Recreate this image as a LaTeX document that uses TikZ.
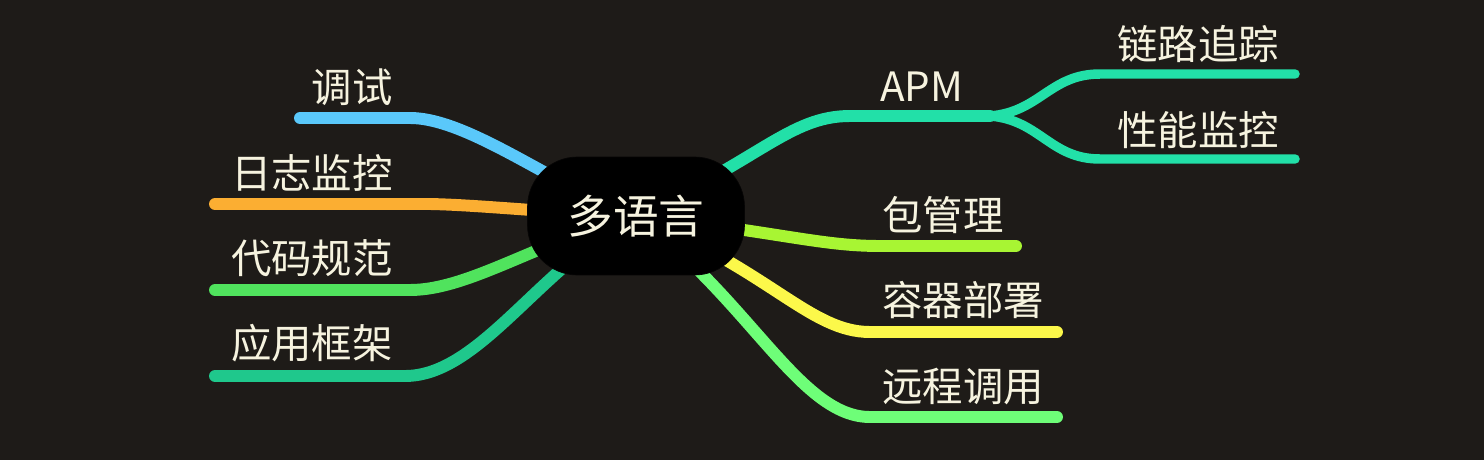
\documentclass[tikz,border=0pt]{standalone}
\usepackage{fontspec}
\setmainfont{Noto Sans CJK SC}
\usetikzlibrary{positioning}
\pgfdeclarelayer{bg}
\pgfsetlayers{bg,main}
\definecolor{canvas}{HTML}{1E1B18}
\definecolor{ink}{HTML}{F6F3DF}
\definecolor{cBlue}{HTML}{5AC8FA}
\definecolor{cOrange}{HTML}{FBAE32}
\definecolor{cGreen}{HTML}{50E35D}
\definecolor{cTeal}{HTML}{1FC88C}
\definecolor{cApm}{HTML}{22E0A8}
\definecolor{cLime}{HTML}{A8F533}
\definecolor{cYellow}{HTML}{FCF84A}
\definecolor{cMint}{HTML}{6EFE78}
\tikzset{
	mapstyle/.style={
		x=0.02cm, y=-0.02cm},
	branch/.style={draw=#1, line width=6.8pt, line cap=round, line join=round},
	twig/.style={draw=#1, line width=5.4pt, line cap=round, line join=round},
	topic/.style={inner sep=0pt, text=ink, font=\fontsize{23}{26}\selectfont},
	root/.style={rectangle, rounded corners=1cm, fill=black, draw=black!80!canvas,
		minimum width=4.34cm, minimum height=2.36cm, text=ink,
		font=\fontsize{26}{29}\selectfont}}

\begin{document}
\begin{tikzpicture}[mapstyle]
	
	\node[root] (lang) at (636, 216) {多语言};
	
	% left side
	\node[topic, anchor=east] (debug) at (393, 87) {调试};
	\node[topic, anchor=east] (logs) at (393, 173) {日志监控};
	\node[topic, anchor=east] (lint) at (393, 258) {代码规范};
	\node[topic, anchor=east] (frame) at (393, 343) {应用框架};
	
	% right side
	\node[topic, anchor=west] (apm) at (880, 87) {APM};
	\node[topic, anchor=west] (trace) at (1117, 44) {链路追踪};
	\node[topic, anchor=west] (perf) at (1117, 130) {性能监控};
	\node[topic, anchor=west] (pkg) at (882, 215) {包管理};
	\node[topic, anchor=west] (deploy) at (882, 300) {容器部署};
	\node[topic, anchor=west] (rpc) at (882, 387) {远程调用};
	
	\coordinate (debug-end) at (300, 118);
	\coordinate (logs-end) at (215, 204);
	\coordinate (lint-end) at (215, 290);
	\coordinate (frame-end) at (215, 376);
	\coordinate (apm-fork) at (990, 116);
	\coordinate (trace-end) at (1295, 74);
	\coordinate (perf-end) at (1295, 159);
	\coordinate (pkg-end) at (1016, 246);
	\coordinate (deploy-end) at (1057, 332);
	\coordinate (rpc-end) at (1057, 417);
	
	\begin{pgfonlayer}{bg}
		\fill[canvas] (0, 0) rectangle (1484, 460);
		
		\draw[branch=cBlue] (lang.center) .. controls (560, 190) and (470, 118) .. (410, 118) -- (debug-end);
		\draw[branch=cOrange] (lang.center) .. controls (540, 212) and (480, 205) .. (430, 204) -- (logs-end);
		\draw[branch=cGreen] (lang.center) .. controls (540, 240) and (470, 290) .. (410, 290) -- (lint-end);
		\draw[branch=cTeal] (lang.center) .. controls (540, 265) and (480, 376) .. (405, 376) -- (frame-end);
		
		\draw[branch=cApm] (lang.center) .. controls (760, 160) and (790, 116) .. (850, 116) -- (apm-fork);
		\draw[twig=cApm] (apm-fork) .. controls (1040, 112) and (1050, 74) .. (1100, 74) -- (trace-end);
		\draw[twig=cApm] (apm-fork) .. controls (1040, 120) and (1050, 159) .. (1100, 159) -- (perf-end);
		
		\draw[branch=cLime] (lang.center) .. controls (780, 232) and (820, 246) .. (880, 246) -- (pkg-end);
		\draw[branch=cYellow] (lang.center) .. controls (770, 270) and (810, 332) .. (870, 332) -- (deploy-end);
		\draw[branch=cMint] (lang.center) .. controls (750, 300) and (800, 417) .. (870, 417) -- (rpc-end);
	\end{pgfonlayer}
	
\end{tikzpicture}
\end{document}
